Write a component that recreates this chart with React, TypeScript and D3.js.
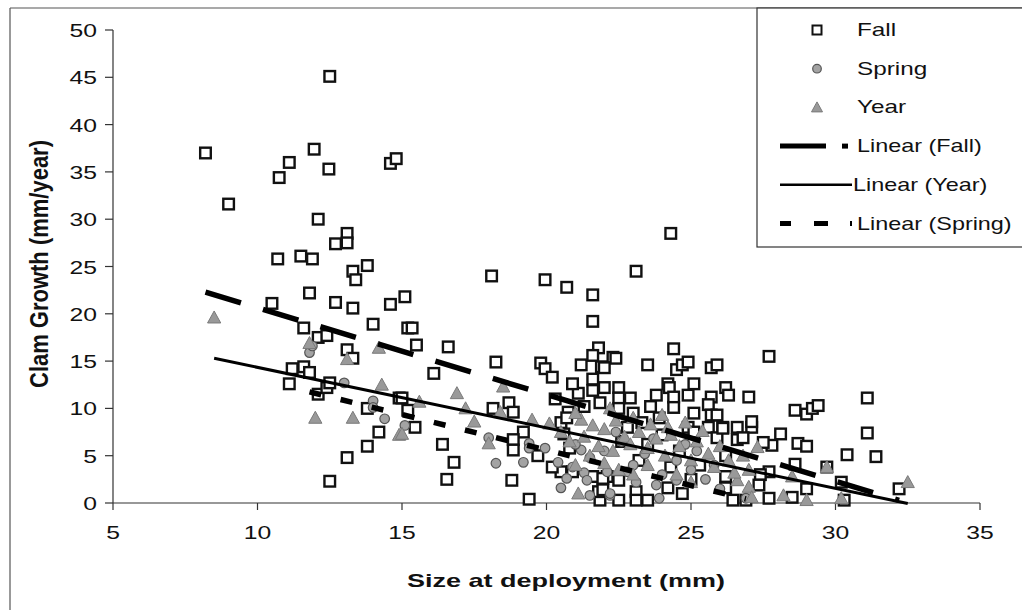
import React from "react";
import * as d3 from "d3";

// ---------- data ----------
const fallX = [8.2, 9.0, 10.75, 11.1, 11.96, 12.47, 12.5, 12.1, 12.7, 10.7, 11.5, 11.9, 11.8,
  14.6, 14.8, 13.1, 13.1, 13.3, 13.4, 13.8, 18.1, 19.95, 20.7, 21.6, 23.1, 24.3,
  10.5, 12.7, 13.3, 14.6, 15.1, 14.0, 11.6, 12.1, 12.4, 13.1, 13.3, 11.2, 11.6, 11.8, 11.1, 12.1, 12.4, 12.5, 14.9, 13.8, 14.2, 13.8, 13.1, 12.5,
  21.6, 15.2, 15.35, 15.5, 16.6, 16.1, 18.25, 19.8, 19.95, 20.2, 21.8, 21.6, 21.2, 22.3, 21.9, 21.6, 21.6, 21.1, 22.0, 22.5, 22.5, 21.85, 22.5, 15.0, 15.2, 15.45,
  18.15, 18.7, 18.85, 19.2, 18.85, 18.85, 20.5, 20.75, 20.7, 16.4, 16.8, 16.55, 18.8, 19.4, 19.7, 20.5, 20.2, 20.8, 20.9, 21.6, 22.1, 22.5, 21.85, 22.5, 21.8,
  22.4, 22.0, 23.5, 24.4, 24.5, 24.7, 24.9, 25.7, 25.9, 27.7, 24.2, 24.25, 25.1, 23.8, 24.4, 24.4, 24.9, 25.7, 26.2, 26.3, 27.0, 22.9, 25.6, 25.7, 25.9, 25.1, 24.9, 25.6, 26.1, 26.6, 27.1, 27.1,
  28.6, 29.0, 29.2, 29.4, 31.1, 31.1, 30.4, 31.4, 32.2, 28.1, 28.7, 29.0, 28.6, 29.7, 30.2, 29.0, 30.3, 27.7, 27.4, 27.8, 27.5, 26.2, 26.2, 26.2, 26.45, 26.9, 27.35, 27.7, 28.5,
  26.6, 26.8, 25.9, 26.1, 25.1, 24.0, 23.2, 24.3, 24.2, 23.1, 23.5, 23.1, 21.95, 21.95,
  23.0, 23.3, 23.6, 22.8, 23.9, 22.6, 23.5, 24.6, 25.3, 25.0, 24.7, 20.3, 20.9, 21.3, 20.6];
const fallY = [37.0, 31.6, 34.4, 36.0, 37.4, 35.3, 45.1, 30.0, 27.4, 25.8, 26.1, 25.8, 22.2,
  35.9, 36.4, 28.5, 27.5, 24.5, 23.6, 25.1, 24.0, 23.6, 22.8, 22.0, 24.5, 28.5,
  21.1, 21.2, 20.6, 21.0, 21.8, 18.9, 18.5, 17.5, 17.7, 16.2, 15.3, 14.2, 14.4, 13.8, 12.6, 11.5, 12.2, 12.7, 11.1, 10.0, 7.5, 6.0, 4.8, 2.3,
  19.2, 18.5, 18.5, 16.7, 16.5, 13.7, 14.9, 14.8, 14.2, 13.3, 16.4, 15.6, 14.6, 15.4, 14.4, 13.1, 11.9, 11.6, 12.2, 12.2, 11.1, 10.6, 10.0, 11.1, 9.8, 8.0,
  10.0, 10.6, 9.6, 7.5, 6.7, 5.6, 8.5, 9.6, 9.0, 6.2, 4.3, 2.5, 2.4, 0.4, 5.0, 3.3, 3.8, 5.8, 3.3, 2.8, 2.8, 2.4, 0.3, 0.3, 1.2,
  15.3, 14.3, 14.6, 16.3, 14.1, 14.6, 14.9, 14.3, 14.6, 15.5, 12.6, 12.2, 12.6, 11.4, 11.2, 10.1, 11.4, 11.2, 12.2, 11.4, 11.2, 11.1, 10.4, 9.3, 9.3, 9.5, 8.0, 8.0, 8.0, 8.0, 8.0, 8.6,
  9.8, 9.4, 10.0, 10.3, 11.1, 7.4, 5.1, 4.9, 1.5, 7.3, 6.3, 6.0, 4.1, 3.8, 2.2, 1.5, 0.3, 3.3, 3.0, 6.1, 6.4, 5.0, 2.8, 1.6, 0.3, 0.3, 1.9, 0.5, 0.6,
  6.7, 6.9, 6.9, 7.9, 7.5, 7.2, 4.5, 3.8, 1.6, 1.2, 0.3, 0.3, 2.6, 1.4,
  9.5, 8.5, 10.2, 8.0, 9.0, 6.5, 6.2, 5.5, 4.0, 2.5, 1.0, 11.0, 12.6, 10.2, 7.3];

const springX = [11.8, 11.9, 13.0, 14.0, 14.0, 14.4, 15.1, 18.0, 18.25, 19.2, 19.4, 19.4, 19.95, 20.4, 20.5, 20.9, 21.3, 21.4, 22.2, 21.2,
  22.2, 22.1, 22.8, 23.1, 23.8, 23.9, 24.5, 26.9, 21.5, 21.0, 21.5, 22.0, 22.6, 23.0, 23.4, 24.0, 24.5, 25.0, 25.5, 26.0, 25.2, 20.7, 23.7, 24.8, 25.8, 22.4];
const springY = [15.9, 16.6, 12.7, 10.8, 10.1, 8.9, 8.2, 6.9, 4.2, 4.3, 6.3, 5.8, 5.8, 4.3, 1.6, 3.8, 3.2, 2.4, 0.8, 5.6,
  1.0, 3.3, 3.3, 2.2, 1.9, 0.5, 2.4, 0.5, 0.8, 6.2, 4.8, 5.5, 6.5, 4.0, 5.2, 3.0, 4.5, 3.5, 2.5, 1.5, 5.5, 2.6, 6.8, 6.2, 4.0, 7.5];

const yearX = [8.5, 11.8, 13.1, 14.2, 14.3, 12.0, 13.3, 14.9, 15.6, 16.9, 17.2, 17.5, 18.5, 18.4, 19.5, 15.0, 18.0, 20.1, 21.2, 22.2, 21.1,
  24.2, 27.3, 29.7, 32.5, 28.2, 29.0, 30.2, 26.6, 27.0, 28.5, 27.1,
  20.5, 20.8, 21.0, 21.3, 21.6, 21.8, 22.0, 22.3, 22.4, 22.7, 22.9, 23.0, 23.2, 23.5, 23.6, 23.8, 24.0, 24.1, 24.3, 24.6, 24.8, 25.0, 25.2, 25.4, 25.6, 25.8, 26.0, 26.3, 26.5,
  22.0, 22.5, 23.0, 23.5, 24.5, 25.0, 21.5, 21.0, 26.8, 27.0];
const yearY = [19.6, 16.9, 15.2, 16.4, 12.5, 9.0, 9.0, 7.2, 10.7, 11.6, 10.0, 8.6, 12.3, 9.6, 8.8, 7.3, 6.3, 8.4, 8.8, 10.0, 1.0,
  8.0, 5.9, 3.8, 2.2, 0.8, 0.3, 0.5, 2.4, 1.7, 2.8, 0.6,
  7.5, 6.5, 9.5, 7.0, 8.2, 6.0, 7.8, 5.5, 8.7, 7.0, 6.2, 9.0, 7.5, 5.8, 8.3, 6.8, 9.3, 5.0, 7.2, 6.0, 8.5, 4.5, 6.5, 7.6, 5.2, 3.8, 6.0, 4.5, 3.2,
  4.2, 3.5, 3.0, 4.0, 3.0, 2.2, 5.0, 4.0, 5.0, 3.5];

const trendNames = ["Linear (Fall)", "Linear (Year)", "Linear (Spring)"];
const trendIntercepts = [29.8, 20.74, 20.6];
const trendSlopes = [-0.917, -0.64, -0.75];
const trendStart = [8.2, 8.5, 11.8];
const trendEnd = [32.2, 32.5, 26.9];

const xTicks = [5, 10, 15, 20, 25, 30, 35];
const yTicks = [0, 5, 10, 15, 20, 25, 30, 35, 40, 45, 50];
const legendMarkers = ["Fall", "Spring", "Year"];

// ---------- layout ----------
const W = 1022, H = 610;
const FONT = "'Liberation Sans', Arial, sans-serif";

const x = d3.scaleLinear().domain([5, 35]).range([113, 980]);
const y = d3.scaleLinear().domain([0, 50]).range([503, 30]);

function T({ px, py, anchor = "start", size = 17, bold = false, rotate = 0, sx = 1.42, children }: any) {
  return (
    <text
      transform={`translate(${px},${py}) scale(${sx},1)${rotate ? ` rotate(${rotate})` : ""}`}
      textAnchor={anchor}
      fontFamily={FONT}
      fontSize={size}
      fontWeight={bold ? "bold" : "normal"}
      fill="#111"
    >
      {children}
    </text>
  );
}

const triPath = (cx: number, cy: number, s: number) =>
  `M${cx},${cy - s * 0.55} L${cx + s * 0.55},${cy + s * 0.45} L${cx - s * 0.55},${cy + s * 0.45} Z`;

export default function App() {
  const lineGen = d3.line<number>().x((v) => x(v[0])).y((v) => y(v[1]));
  const trendStyles = [
    { w: 5.5, dash: "37 23" },
    { w: 3, dash: "" },
    { w: 5.5, dash: "12 20" },
  ];
  const legendY0 = 36, legendDy = 38.7;
  return (
    <svg width={W} height={H} style={{ position: "absolute", left: 0, top: 0, background: "#fff" }}>
      {/* outer border */}
      <line x1={10} y1={8} x2={W} y2={8} stroke="#555" strokeWidth={1.2} />
      <line x1={10} y1={8} x2={10} y2={H} stroke="#555" strokeWidth={1.2} />

      {/* axes */}
      <line x1={113} y1={y(50)} x2={113} y2={y(0)} stroke="#333" strokeWidth={1.2} />
      <line x1={113} y1={y(0)} x2={980} y2={y(0)} stroke="#333" strokeWidth={1.2} />
      {yTicks.map((t) => (
        <g key={"yt" + t}>
          <line x1={105} x2={113} y1={y(t)} y2={y(t)} stroke="#333" strokeWidth={1.2} />
          <T px={97} py={y(t) + 7} anchor="end" size={19} sx={1.3}>{t}</T>
        </g>
      ))}
      {xTicks.map((t) => (
        <g key={"xt" + t}>
          <line x1={x(t)} x2={x(t)} y1={503} y2={510} stroke="#333" strokeWidth={1.2} />
          <T px={x(t)} py={539} anchor="middle" size={19} sx={1.3}>{t}</T>
        </g>
      ))}

      {/* axis titles */}
      <T px={566} py={587} anchor="middle" size={19} bold>Size at deployment (mm)</T>
      <T px={48} py={264} anchor="middle" size={22} sx={1.2} bold rotate={-90}>Clam Growth (mm/year)</T>

      {/* Fall squares */}
      {fallX.map((vx, i) => (
        <rect key={"f" + i} x={x(vx) - 5.3} y={y(fallY[i]) - 5.3} width={10.6} height={10.6}
          fill="#fff" stroke="#111" strokeWidth={2.4} />
      ))}
      {/* Spring circles */}
      {springX.map((vx, i) => (
        <circle key={"s" + i} cx={x(vx)} cy={y(springY[i])} r={4.8} fill="#a3a3a3" stroke="#555" strokeWidth={1.2} />
      ))}
      {/* Year triangles */}
      {yearX.map((vx, i) => (
        <path key={"y" + i} d={triPath(x(vx), y(yearY[i]), 12)} fill="#999" stroke="#7a7a7a" strokeWidth={1} />
      ))}

      {/* trend lines */}
      {trendNames.map((n, i) => (
        <path key={n}
          d={lineGen([[trendStart[i], trendIntercepts[i] + trendSlopes[i] * trendStart[i]],
            [trendEnd[i], trendIntercepts[i] + trendSlopes[i] * trendEnd[i]]] as any) || ""}
          stroke="#000" strokeWidth={trendStyles[i].w} strokeDasharray={trendStyles[i].dash} fill="none" />
      ))}

      {/* legend */}
      <rect x={757} y={8} width={W - 757 + 5} height={239} fill="#fff" stroke="#333" strokeWidth={1.2} />
      {legendMarkers.map((m, i) => {
        const ly = legendY0 + i * legendDy;
        const cy = ly - 6;
        return (
          <g key={"lm" + m}>
            {i === 0 && <rect x={817 - 4.5} y={cy - 4.5} width={9} height={9} fill="#fff" stroke="#111" strokeWidth={2} />}
            {i === 1 && <circle cx={817} cy={cy} r={4.3} fill="#a3a3a3" stroke="#555" strokeWidth={1.2} />}
            {i === 2 && <path d={triPath(817, cy, 10)} fill="#999" stroke="#7a7a7a" strokeWidth={1} />}
            <T px={857} py={ly} size={18} sx={1.35}>{m}</T>
          </g>
        );
      })}
      {trendNames.map((n, i) => {
        const ly = legendY0 + (i + 3) * legendDy;
        const cy = ly - 6;
        return (
          <g key={"lt" + n}>
            {i === 0 && (
              <>
                <line x1={780} x2={826} y1={cy} y2={cy} stroke="#000" strokeWidth={5} />
                <rect x={842} y={cy - 2.5} width={6} height={5} fill="#000" />
              </>
            )}
            {i === 1 && <line x1={780} x2={852} y1={cy} y2={cy} stroke="#000" strokeWidth={2.5} />}
            {i === 2 && (
              <>
                <line x1={780} x2={791} y1={cy} y2={cy} stroke="#000" strokeWidth={5} />
                <line x1={814} x2={828} y1={cy} y2={cy} stroke="#000" strokeWidth={5} />
                <line x1={850} x2={852} y1={cy} y2={cy} stroke="#000" strokeWidth={5} />
              </>
            )}
            <T px={i === 1 ? 853 : 857} py={ly} size={18} sx={1.3}>{n}</T>
          </g>
        );
      })}
    </svg>
  );
}
